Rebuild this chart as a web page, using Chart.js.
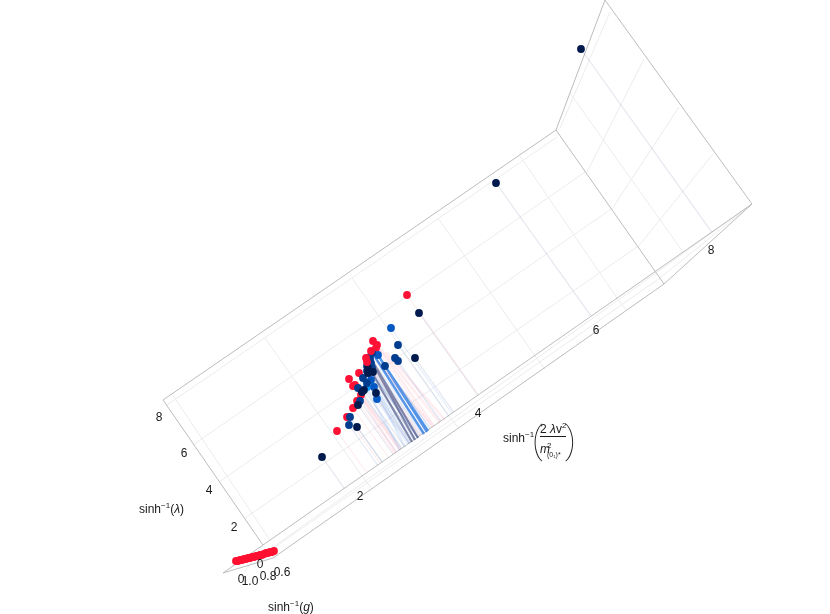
<!DOCTYPE html>
<html>
<head>
<meta charset="utf-8">
<style>
html, body { margin: 0; padding: 0; background: #fff; }
canvas { display: block; }
</style>
<script src="https://cdn.jsdelivr.net/npm/chart.js@4"></script>
</head>
<body>
<canvas id="boxChart" width="830" height="614"></canvas>
<script>
// values, in projected page units
var redPoints = [[407,295],[373,341],[377,345],[376,348],[359,373],[349,379],[353,386],[355,385],[361,395],[357,401],[353,408],[347,417],[337,431]];
var redTopPoints = [[371,351],[366,358],[367,362]];
var midBluePoints = [[398,345],[395,358],[398,361],[385,366],[372,353],[370,357],[370,360],[367,366],[367,371],[363,378],[367,383],[358,388],[350,417],[349,425],[360,401],[371,363],[372,368]];
var brightBluePoints = [[391,328],[378,355],[377,399],[371,380],[374,387]];
var cyanPoints = [[367,387]];
var navyPoints = [[581,49],[496,183],[419,313],[415,358],[322,457],[357,427],[376,393],[358,405],[368,368],[373,372],[362,392],[368,373],[364,390]];
var zeroPoints = [[236,561],[238,561],[240,560],[242,560],[244,559],[246,559],[248,558],[250,558],[252,557],[254,557],[256,556],[258,556],[260,555],[262,555],[264,554],[266,553],[268,553],[270,552],[272,552],[274,551]];

var boxEdges = [
    [[163,400],[556,130]], [[163,400],[263,545]], [[263,545],[752,204]],
    [[273,558],[664,284]], [[556,130],[664,284]], [[664,284],[752,204]],
    [[556,130],[605,0]], [[605,0],[752,204]], [[223,573],[263,545]], [[223,573],[273,558]]
];
var gridLines = [
    [[167,405],[557,137]], [[193,445],[585,172]], [[219,482],[611,209]], [[245,518],[637,247]],
    [[172,394],[270,540]], [[265,338],[362,476]], [[352,278],[449,416]], [[438,218],[535,356]], [[520,156],[617,298]],
    [[610,12],[560,128]], [[644,59],[587,172]], [[679,107],[612,209]], [[713,154],[638,247]],
    [[570,93],[683,252]],
    [[268,552],[660,278]], [[272,548],[752,204]], [[660,278],[752,204]],
    [[362,476],[372,489]], [[449,416],[459,429]], [[535,356],[545,369]], [[617,298],[627,311]],
    [[232,566],[268,552]], [[245,571],[262,546]]
];
var blueBands = [[[378,355],[427,432]], [[375,357],[424,434]], [[381,360],[428,431]]];
var darkBands = [[[371,360],[415,440]], [[368,366],[412,442]], [[373,362],[418,438]]];
var paleBands = [[[366,372],[405,447]], [[362,380],[400,450]], [[372,372],[418,438]], [[369,378],[410,444]]];
var pinkBands = [[[380,348],[440,423]], [[386,352],[445,420]], [[376,360],[433,427]], [[356,390],[396,453]]];

var lambdaTicks = ["8", "6", "4", "2", "0"];
var gTicks = ["0", "1.0", "0.8", "0.6"];
var mTicks = ["2", "4", "6", "8"];
var lambdaTickAt = [[159,418],[184,454],[209,491],[234,528],[260,565]];
var gTickAt = [[241,580],[250,582],[268,577],[282,573]];
var mTickAt = [[360,497],[478,414],[596,331],[711,251]];

// where a drop line from a point meets the floor edge
function footOf(p) {
    var a = boxEdges[2][0], b = boxEdges[2][1];
    var k = (b[1] - a[1]) / (b[0] - a[0]);
    var t = (a[1] + k * (p[0] - a[0]) - p[1]) / (1.4 - k);
    return [p[0] + t, p[1] + 1.4 * t];
}
function drops(points) {
    return points.map(function (p) { return [p, footOf(p)]; });
}
function toLine(segments) {
    var out = [];
    segments.forEach(function (s) {
        out.push({x: s[0][0], y: s[0][1]}, {x: s[1][0], y: s[1][1]}, {x: NaN, y: NaN});
    });
    return out;
}
function toDots(points) {
    return points.map(function (p) { return {x: p[0], y: p[1]}; });
}

var sets = [];
function addLines(segments, color, width) {
    sets.push({data: toLine(segments), showLine: true, borderColor: color, borderWidth: width, pointRadius: 0, spanGaps: false, clip: false});
}
function addDots(points, color) {
    sets.push({data: toDots(points), backgroundColor: color, borderWidth: 0, pointRadius: 3.9, showLine: false, clip: false});
}
addLines(gridLines, "#ececef", 1);
addLines(boxEdges, "#bcbcbc", 1);
addLines(drops(redPoints.concat(redTopPoints)), "rgba(255,60,90,0.12)", 1);
addLines(drops(navyPoints), "rgba(30,60,120,0.12)", 1.2);
addLines(drops(midBluePoints), "rgba(40,90,170,0.12)", 1.2);
addLines(drops(brightBluePoints.concat(cyanPoints)), "rgba(60,130,230,0.14)", 1.2);
addLines(pinkBands, "rgba(255,110,130,0.12)", 2.5);
addLines(paleBands, "rgba(90,150,235,0.18)", 2.2);
addLines(blueBands, "rgba(20,110,225,0.7)", 2.4);
addLines(darkBands, "rgba(40,50,110,0.55)", 2.2);
addDots(zeroPoints, "#ff1030");
addDots(redPoints, "#ff1136");
addDots(cyanPoints, "#009cff");
addDots(brightBluePoints, "#0558c4");
addDots(midBluePoints, "#003d8e");
addDots(navyPoints, "#001a4d");
addDots(redTopPoints, "#ff1136");
// chart.js paints high order first
sets.forEach(function (s, i) { s.order = sets.length - i; });

var FONT = '"Liberation Sans", Arial, sans-serif';

function run(ctx, x, y, text, style) {
    ctx.font = style + "px " + FONT;
    ctx.fillText(text, x, y);
    return x + ctx.measureText(text).width;
}
function sinhInverse(ctx, x, y) {
    x = run(ctx, x, y, "sinh", "12");
    return run(ctx, x, y - 5, "\u22121", "8");
}

var labelPlugin = {
    id: "boxLabels",
    afterDraw: function (chart) {
        var ctx = chart.ctx, sx = chart.scales.x, sy = chart.scales.y;
        function px(p) { return [sx.getPixelForValue(p[0]), sy.getPixelForValue(p[1])]; }
        function ticks(labels, places) {
            labels.forEach(function (t, i) {
                var p = px(places[i]);
                ctx.fillText(t, p[0], p[1]);
            });
        }
        ctx.save();
        ctx.fillStyle = "#1a1a1a";
        ctx.font = "12px " + FONT;
        ctx.textAlign = "center";
        ctx.textBaseline = "middle";
        ticks(lambdaTicks, lambdaTickAt);
        ticks(gTicks, gTickAt);
        ticks(mTicks, mTickAt);

        ctx.textAlign = "left";
        ctx.textBaseline = "alphabetic";
        // sinh^-1(lambda)
        var p = px([139, 513]);
        var x = sinhInverse(ctx, p[0], p[1]);
        x = run(ctx, x, p[1], "(", "12");
        x = run(ctx, x, p[1], "\u03bb", "italic 12");
        run(ctx, x, p[1], ")", "12");
        // sinh^-1(g)
        p = px([268, 611]);
        x = sinhInverse(ctx, p[0], p[1]);
        x = run(ctx, x, p[1], "(", "12");
        x = run(ctx, x, p[1], "g", "italic 12");
        run(ctx, x, p[1], ")", "12");
        // sinh^-1( 2 lambda v^2 / m^2_(0_1)* )
        p = px([503, 442]);
        sinhInverse(ctx, p[0], p[1]);
        ctx.font = '100 36px Roboto, "Liberation Sans", sans-serif';
        ctx.fillText("(", p[0] + 29, p[1] + 11);
        ctx.fillText(")", p[0] + 62, p[1] + 11);
        x = run(ctx, p[0] + 37, p[1] - 9, "2 ", "12");
        x = run(ctx, x, p[1] - 9, "\u03bb", "italic 12");
        x = run(ctx, x, p[1] - 9, "v", "12");
        run(ctx, x, p[1] - 14, "2", "8");
        ctx.fillRect(p[0] + 37, p[1] - 6, 26, 1);
        x = run(ctx, p[0] + 37, p[1] + 11, "m", "italic 12");
        run(ctx, x - 3, p[1] + 6, "2", "8");
        run(ctx, x - 3, p[1] + 15, "(0\u2081)*", "7");
        ctx.restore();
    }
};

new Chart(document.getElementById("boxChart").getContext("2d"), {
    type: "scatter",
    data: {datasets: sets},
    options: {
        responsive: false,
        animation: false,
        layout: {padding: 0},
        plugins: {legend: {display: false}, tooltip: {enabled: false}},
        scales: {
            // the hidden axes leave room for the dots' radius, so the ranges start inside the page
            x: {type: "linear", min: 4, max: 826, display: false},
            y: {type: "linear", min: 4, max: 610, reverse: true, display: false}
        }
    },
    plugins: [labelPlugin]
});
</script>
</body>
</html>
